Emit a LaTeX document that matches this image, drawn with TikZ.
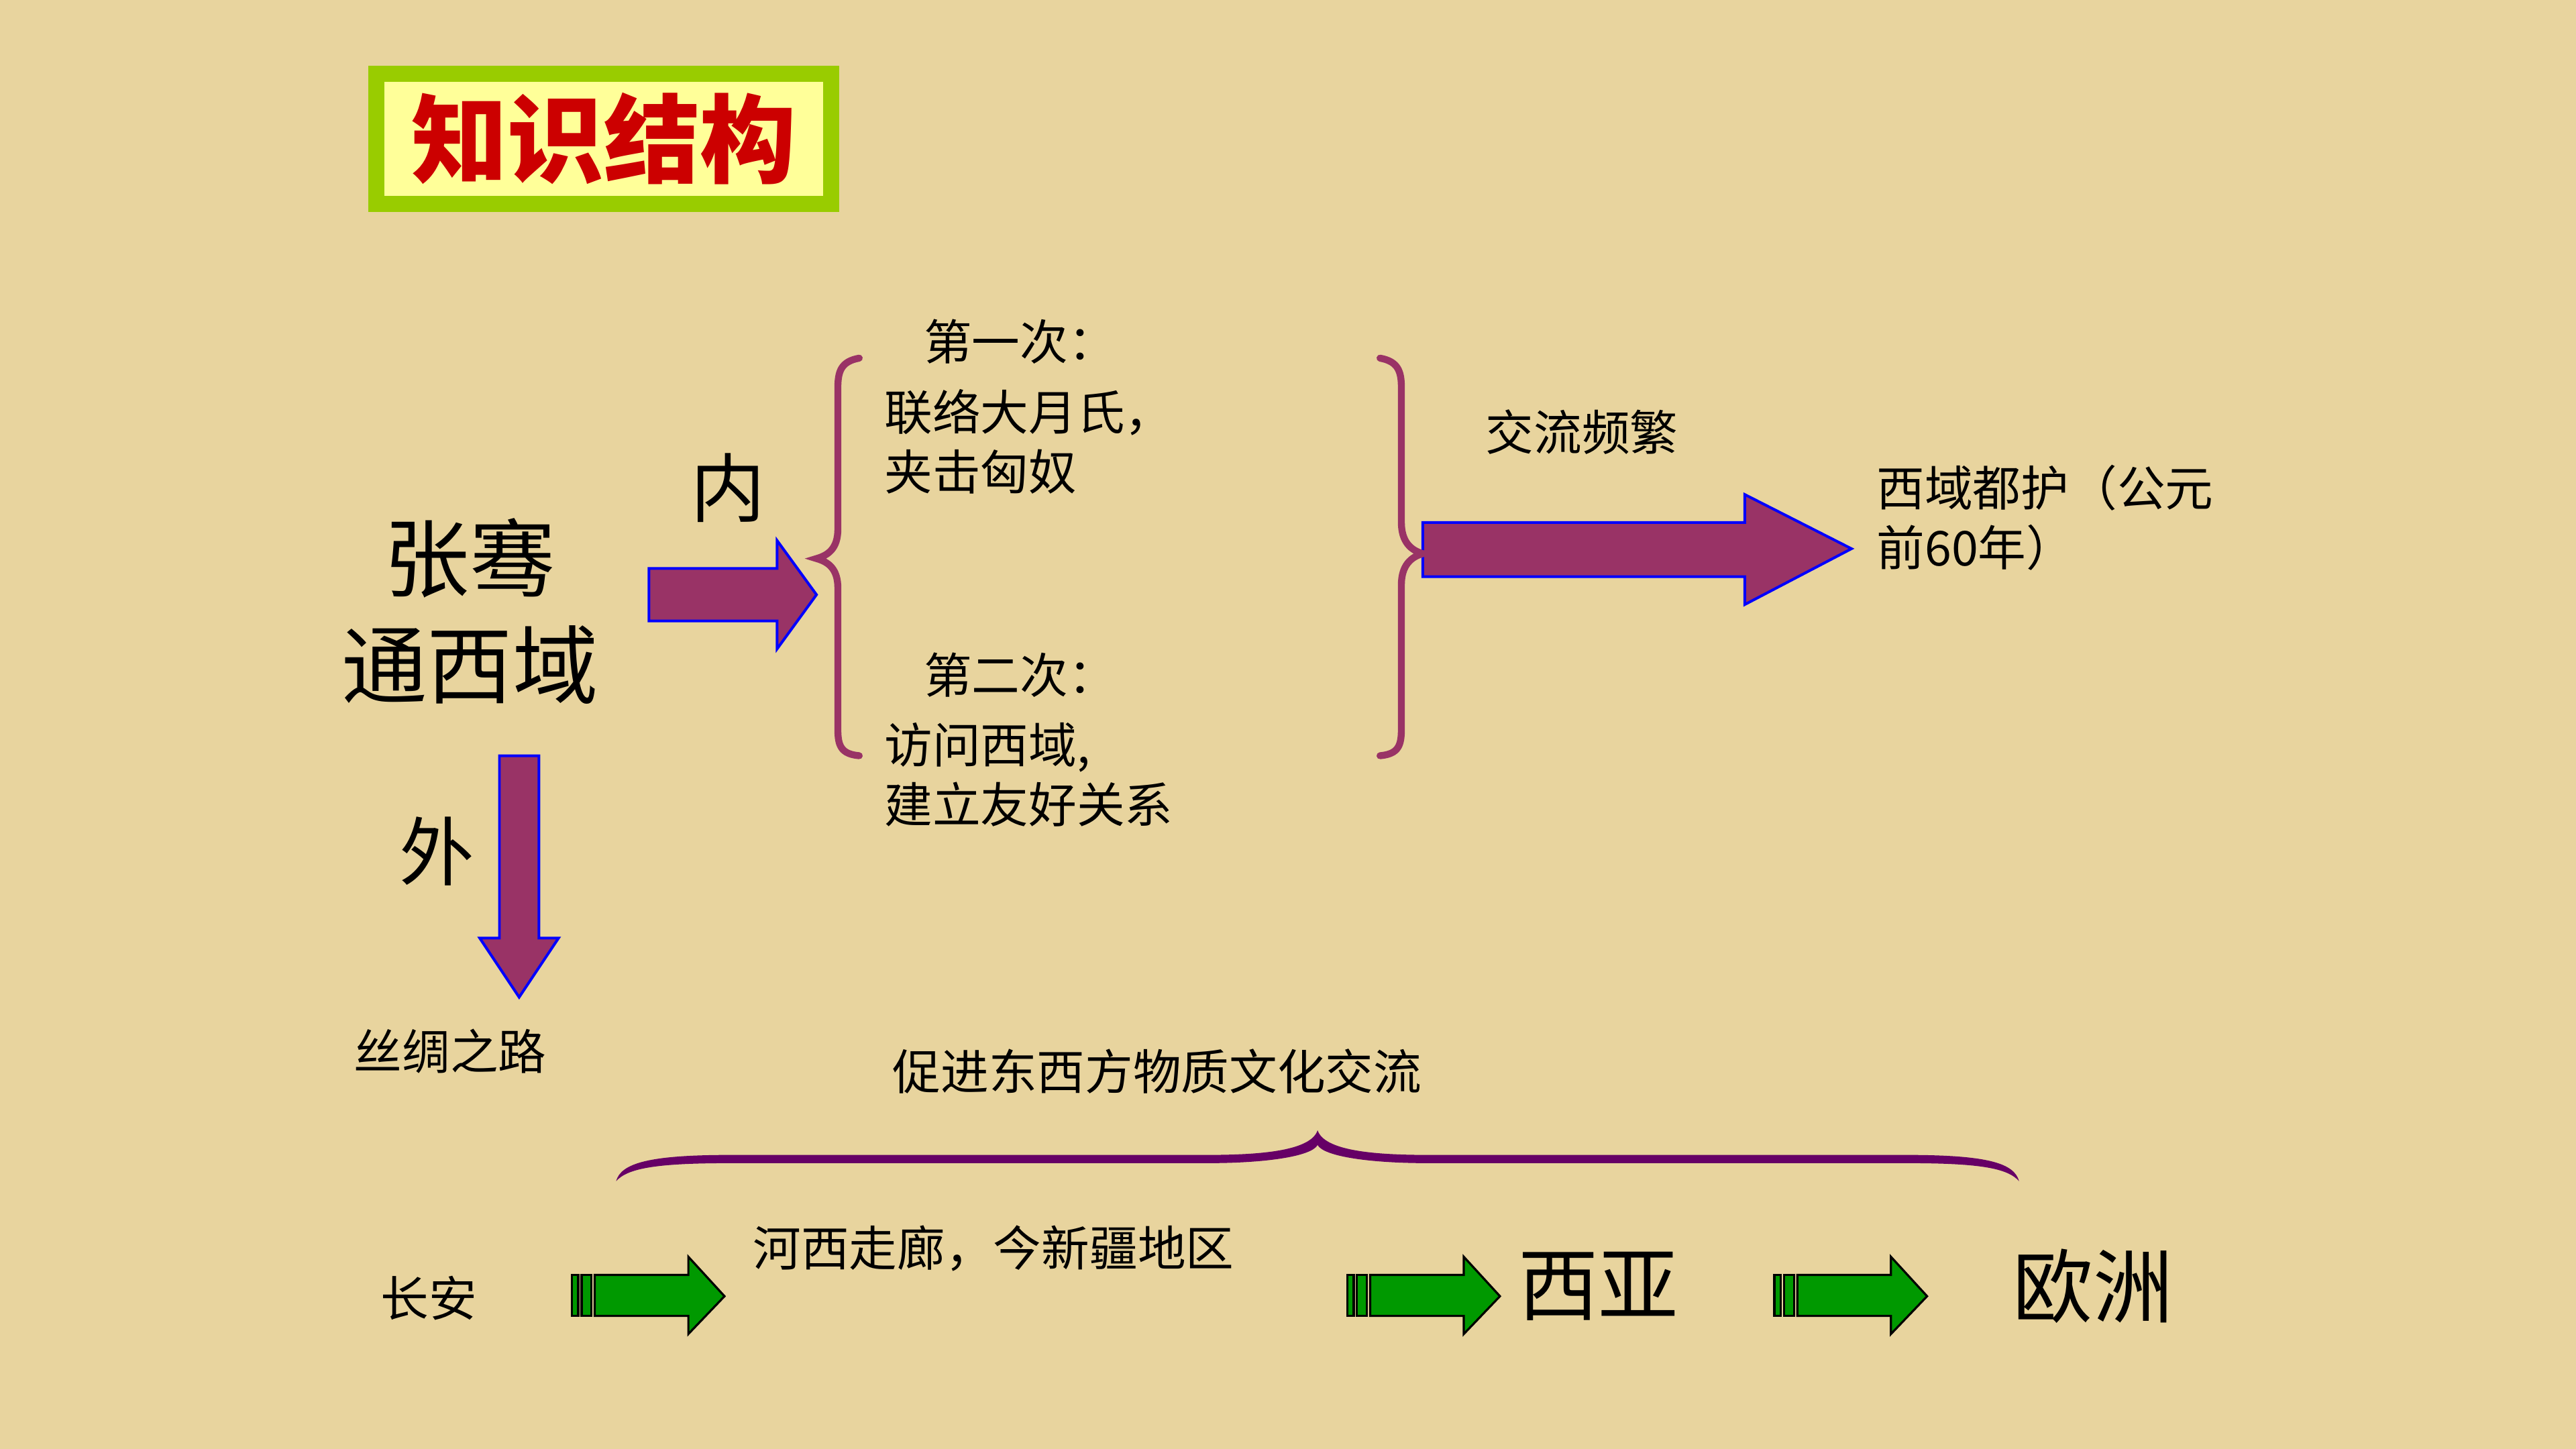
\documentclass[tikz,border=0pt]{standalone}
\usepackage{fontspec}
\setmainfont{Noto Sans CJK SC}
\usetikzlibrary{positioning,calc}

\definecolor{paper}{RGB}{232,212,158}
\definecolor{plum}{RGB}{153,51,102}
\definecolor{darkplum}{RGB}{102,0,102}
\definecolor{leaf}{RGB}{0,153,0}
\definecolor{lime}{RGB}{153,204,0}
\definecolor{cream}{RGB}{255,255,153}
\definecolor{titlered}{RGB}{204,0,0}

\tikzset{
  titlebox/.style={draw=lime, line width=6pt, fill=cream, text=titlered, inner sep=0pt,
    minimum width=5.98cm, minimum height=1.71cm, font=\fontsize{36}{40}\selectfont\bfseries},
  bigtext/.style={font=\fontsize{32}{40}\selectfont, align=center, inner sep=0pt},
  midtext/.style={font=\fontsize{28}{34}\selectfont, inner sep=0pt},
  smalltext/.style={font=\fontsize{18}{22.3}\selectfont, align=left, inner sep=0pt},
  plumarrow/.style={fill=plum, draw=blue, line width=1pt, line join=miter},
  greenarrow/.style={fill=leaf, draw=black, line width=0.8pt},
  bracket/.style={draw=plum, line width=2.6pt, line cap=round},
}

% green block arrow with two bars, start x and middle y
\newcommand{\greenblock}[2]{
  \begin{scope}[shift={(#1,#2)}]
    \filldraw[greenarrow] (0,-13) rectangle (4,12);
    \filldraw[greenarrow] (6,-13) rectangle (12,12);
    \filldraw[greenarrow] (14,-13) -- (71,-13) -- (71,-24) -- (93,0) -- (71,23) -- (71,12) -- (14,12) -- cycle;
  \end{scope}
}

\begin{document}
\begin{tikzpicture}[x=0.0216cm, y=-0.0216cm]
  % Background
  \useasboundingbox (0,0) rectangle (1568,882);
  \fill[paper] (0,0) rectangle (1568,882);

  % Title
  \node[titlebox] (title) at (367.5,84.5) {知识结构};

  % Zhang Qian
  \node[bigtext] (zhangqian) at (286,372) {张骞\\通西域};
  \node[midtext] (nei) at (443,297) {内};
  \node[midtext] (wai) at (266,518) {外};
  \node[smalltext] (silkroad) at (274,640) {丝绸之路};

  % Purple arrows
  \filldraw[plumarrow] (395,346) -- (473,346) -- (473,329) -- (497,362) -- (473,395) -- (473,378) -- (395,378) -- cycle;
  \filldraw[plumarrow] (304,460) -- (328,460) -- (328,571) -- (340,571) -- (316,607) -- (292,571) -- (304,571) -- cycle;
  \filldraw[plumarrow] (866,318) -- (1062,318) -- (1062,301) -- (1127,334) -- (1062,368) -- (1062,351) -- (866,351) -- cycle;

  % Two missions
  \node[smalltext, anchor=west] (first) at (562,208) {第一次：};
  \node[smalltext, anchor=west] (firsttxt) at (538,269) {联络大月氏，\\夹击匈奴};
  \node[smalltext, anchor=west] (second) at (562,411) {第二次：};
  \node[smalltext, anchor=west] (secondtxt) at (538,471.5) {访问西域,\\建立友好关系};

  % Braces
  \draw[bracket] (523,218) .. controls (512,220) and (510,226) .. (510,236) -- (510,322)
    .. controls (510,334) and (504,338) .. (497,340) .. controls (504,342) and (510,346) .. (510,358)
    -- (510,444) .. controls (510,454) and (512,459) .. (523,460);
  \draw[bracket] (840,218) .. controls (851,220) and (853,226) .. (853,236) -- (853,318)
    .. controls (853,330) and (859,335) .. (866,337) .. controls (859,339) and (853,344) .. (853,356)
    -- (853,444) .. controls (853,454) and (851,459) .. (840,460);

  % Result
  \node[smalltext, anchor=west] (jiaoliu) at (904,263) {交流频繁};
  \node[smalltext, anchor=west] (duhu) at (1142,315) {西域都护（公元\\前60年）};

  % Silk road
  \node[smalltext, anchor=west] (cujin) at (543,652) {促进东西方物质文化交流};
  \fill[darkplum] (375,719) .. controls (378,708) and (395,703) .. (445,703) -- (735,703)
    .. controls (770,703) and (798,700) .. (802,688) .. controls (806,700) and (834,703) .. (869,703)
    -- (1160,703) .. controls (1210,703) and (1226,708) .. (1229,719)
    .. controls (1222,711) and (1205,708) .. (1160,708) -- (869,708)
    .. controls (834,708) and (806,704) .. (802,697) .. controls (798,704) and (770,708) .. (735,708)
    -- (445,708) .. controls (400,708) and (382,711) .. (375,719) -- cycle;

  \node[smalltext] (changan) at (261,790) {长安};
  \node[smalltext, anchor=west] (hexi) at (458,760) {河西走廊，今新疆地区};
  \node[bigtext, font=\fontsize{30}{36}\selectfont] (xiya) at (973,783) {西亚};
  \node[bigtext, font=\fontsize{30}{36}\selectfont] (ouzhou) at (1274,783) {欧洲};

  \greenblock{348}{789}
  \greenblock{820}{789}
  \greenblock{1080}{789}
\end{tikzpicture}
\end{document}
